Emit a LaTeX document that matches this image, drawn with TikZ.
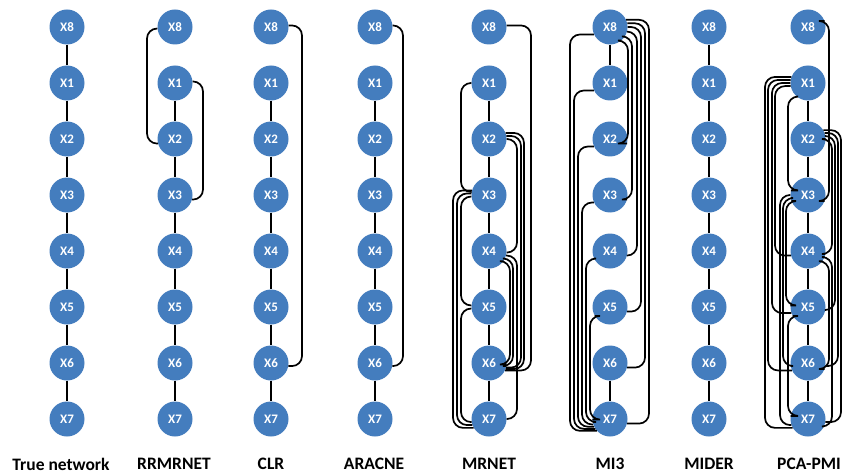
\documentclass[tikz,border=0pt]{standalone}
\usepackage{tikz}
\usepackage{fontspec}
\setmainfont{Carlito}
\usetikzlibrary{calc}
\definecolor{genefill}{HTML}{447DBE}

% curved link on one side of a column: prefix, upper, lower, shift, angle at upper, angle at lower
\newcommand{\bendlink}[6]{%
  \coordinate (v) at ([xshift=#4pt]#1#2.center);
  \draw[link] (#1#2.#5) -- (#1#2.#5 -| v) -- (#1#3.#6 -| v) -- (#1#3.#6);
}

\begin{document}
\begin{tikzpicture}[x=1pt,y=-1pt,
  gene/.style={circle,fill=genefill,minimum size=35pt,inner sep=0pt,text=white,
    font=\bfseries\fontsize{13}{14}\selectfont},
  method/.style={font=\bfseries\fontsize{17.5}{20}\selectfont},
  link/.style={line width=1.7pt,rounded corners=10pt}]
\useasboundingbox (0,0) rectangle (842,473);

\foreach \col/\cx/\lx/\name in {t/67/61/True network,r/175/174/RRMRNET,c/271/271/CLR,
    a/375/374/ARACNE,m/489/489/MRNET,i/610/610/MI3,d/709/709/MIDER,p/808/809/PCA-PMI}{
  \foreach \k/\cy in {8/27,1/83,2/139,3/195,4/251,5/307,6/363,7/419}
    \node[gene] (\col\k) at (\cx,\cy) {X\k};
  \node[method] (\col lab) at (\lx,464) {\name};
}

% straight links
\foreach \col in {t,d}
  \foreach \u/\w in {8/1,1/2,2/3,3/4,4/5,5/6,6/7}
    \draw[link] (\col\u) -- (\col\w);
\foreach \col in {r,c,a,m,p}
  \foreach \u/\w in {1/2,2/3,3/4,4/5,5/6,6/7}
    \draw[link] (\col\u) -- (\col\w);
\draw[link] (i8) -- (i1);
\draw[link] (i6) -- (i7);

% RRMRNET
\bendlink{r}{8}{2}{-28}{185}{195}
\bendlink{r}{1}{3}{28}{5}{-15}
% CLR, ARACNE
\bendlink{c}{8}{6}{31}{5}{-10}
\bendlink{a}{8}{6}{28}{5}{-10}

% MRNET
\bendlink{m}{8}{6}{42}{5}{-25}
\bendlink{m}{2}{6}{35}{20}{-20}
\bendlink{m}{2}{6}{32}{10}{-15}
\bendlink{m}{2}{4}{28}{0}{-5}
\bendlink{m}{4}{7}{28}{-15}{0}
\bendlink{m}{4}{6}{24}{-25}{-10}
\bendlink{m}{4}{6}{21}{-35}{-5}
\bendlink{m}{1}{3}{-28}{180}{170}
\bendlink{m}{3}{5}{-28}{185}{175}
\bendlink{m}{3}{7}{-32}{175}{200}
\bendlink{m}{3}{7}{-36}{165}{210}
\bendlink{m}{5}{7}{-28}{185}{190}

% MI3
\bendlink{i}{8}{2}{18}{-50}{-15}
\bendlink{i}{8}{3}{22}{-32}{-15}
\bendlink{i}{8}{4}{27}{-15}{-15}
\bendlink{i}{8}{5}{31}{0}{-15}
\bendlink{i}{8}{6}{35}{12}{-15}
\bendlink{i}{8}{7}{39}{24}{-15}
\bendlink{i}{8}{7}{-40}{205}{222}
\bendlink{i}{1}{7}{-36}{205}{214}
\bendlink{i}{2}{7}{-32}{205}{206}
\bendlink{i}{3}{7}{-28}{205}{198}
\bendlink{i}{4}{7}{-24}{205}{190}
\bendlink{i}{5}{7}{-20}{210}{182}

% PCA-PMI
\bendlink{p}{8}{3}{21}{20}{-20}
\bendlink{p}{2}{4}{24}{0}{-10}
\bendlink{p}{2}{5}{27}{10}{-10}
\bendlink{p}{2}{6}{30}{20}{-10}
\bendlink{p}{2}{7}{33}{30}{-10}
\bendlink{p}{4}{6}{21}{-35}{-20}
\bendlink{p}{4}{7}{24}{-20}{-25}
\bendlink{p}{1}{3}{-20}{230}{165}
\bendlink{p}{1}{4}{-33}{190}{195}
\bendlink{p}{1}{5}{-36}{180}{200}
\bendlink{p}{1}{6}{-40}{170}{205}
\bendlink{p}{1}{7}{-43}{160}{210}
\bendlink{p}{3}{5}{-22}{200}{175}
\bendlink{p}{3}{6}{-25}{190}{190}
\bendlink{p}{3}{7}{-28}{180}{200}
\bendlink{p}{5}{7}{-20}{210}{170}
\end{tikzpicture}
\end{document}
